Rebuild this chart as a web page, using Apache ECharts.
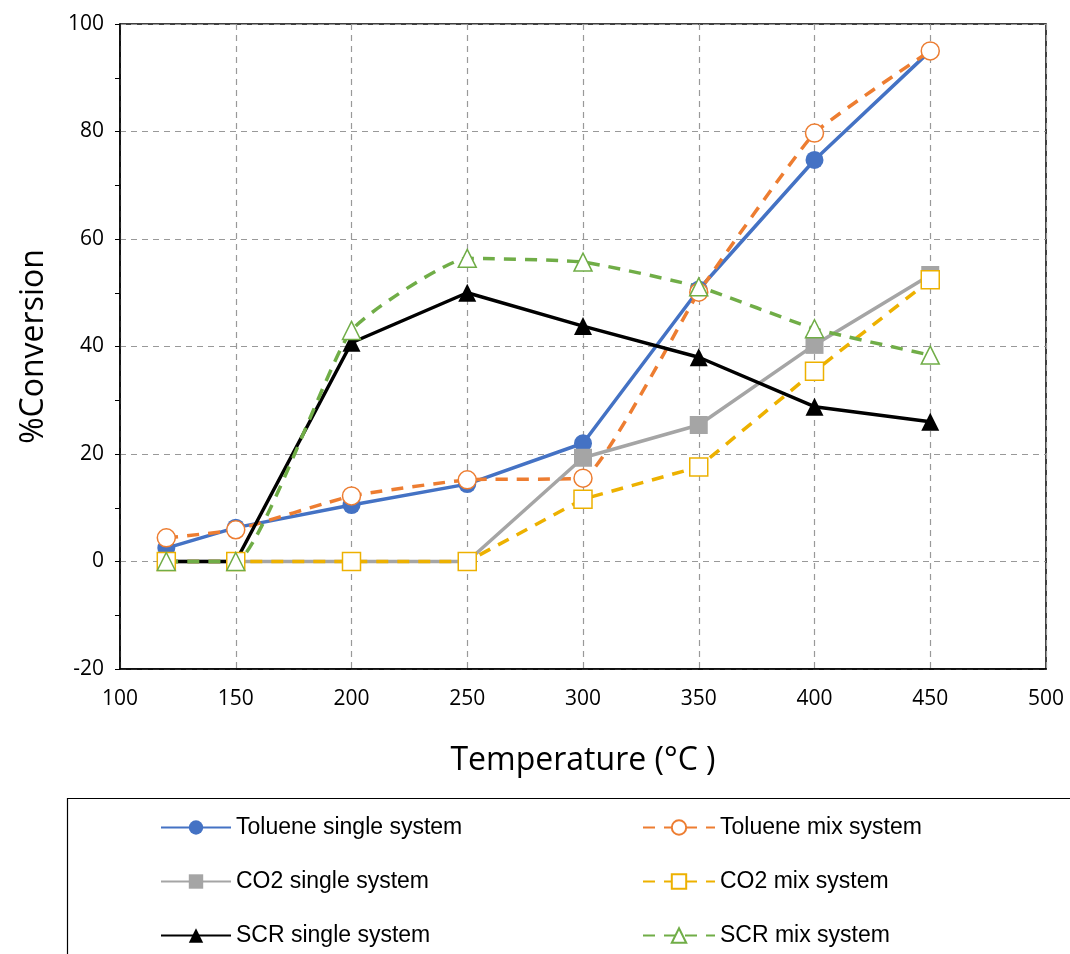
<!DOCTYPE html>
<html>
<head>
<meta charset="utf-8">
<script src="https://cdn.jsdelivr.net/npm/echarts@6/dist/echarts.min.js"></script>
<style>
  html, body { margin: 0; padding: 0; background: #fff; }
  #main { width: 1070px; height: 954px; }
</style>
</head>
<body>
<div id="main"></div>
<script>
    // data
    var temperature = [120, 150, 200, 250, 300, 350, 400, 450];
    var tolueneSingle = [2.5, 6.3, 10.5, 14.4, 22.0, 50.6, 74.7, 95.0];
    var tolueneMix = [4.4, 5.9, 12.2, 15.2, 15.5, 50.1, 79.7, 95.0];
    var co2Single = [0, 0, 0, 0, 19.3, 25.4, 40.3, 53.3];
    var co2Mix = [0, 0, 0, 0, 11.6, 17.6, 35.4, 52.4];
    var scrSingle = [0, 0, 40.7, 50.0, 43.8, 38.0, 28.8, 26.0];
    var scrMix = [0, 0, 43.0, 56.4, 55.7, 51.1, 43.3, 38.4];

    var singleNames = ['Toluene single system', 'CO2 single system', 'SCR single system'];
    var mixNames = ['Toluene mix system', 'CO2 mix system', 'SCR mix system'];

    var font = '"Liberation Sans Narrow", "Liberation Sans", sans-serif';
    var tickFont = '"Open Sans", "DejaVu Sans", sans-serif';

    function pairs(ys) {
        return temperature.map(function (t, i) { return [t, ys[i]]; });
    }

    function solid(name, ys, color, symbol) {
        return {
            name: name, type: 'line', data: pairs(ys),
            symbol: symbol, symbolSize: 18,
            lineStyle: { color: color, width: 3.5 },
            itemStyle: { color: color }
        };
    }

    function dashed(name, ys, color, symbol, smooth) {
        return {
            name: name, type: 'line', data: pairs(ys),
            symbol: symbol, symbolSize: 18, smooth: smooth,
            lineStyle: { color: color, width: 3.5, type: [12, 9] },
            itemStyle: { color: '#fff', borderColor: color, borderWidth: 1.5 }
        };
    }

    var myChart = echarts.init(document.getElementById('main'));

    var option = {
        animation: false,
        grid: {
            left: 120, right: 24, top: 24, bottom: 285,
            show: true, borderColor: '#000', borderWidth: 1.5
        },
        xAxis: {
            type: 'value', min: 100, max: 500, interval: 50,
            name: 'Temperature (°C )', nameLocation: 'middle', nameGap: 76,
            nameTextStyle: { fontSize: 32, fontFamily: tickFont, color: '#000' },
            axisLine: { onZero: false, lineStyle: { color: '#000', width: 1.5 } },
            axisTick: { show: false },
            axisLabel: { fontSize: 21, fontFamily: tickFont, color: '#000', margin: 20 },
            splitLine: { lineStyle: { color: '#999', type: [6, 5], width: 1.2 } }
        },
        yAxis: {
            type: 'value', min: -20, max: 100, interval: 20,
            name: '%Conversion', nameLocation: 'middle', nameGap: 70,
            nameTextStyle: { fontSize: 32, fontFamily: tickFont, color: '#000' },
            axisLine: { show: true, onZero: false, lineStyle: { color: '#000', width: 1.5 } },
            axisTick: { show: true, length: 5, lineStyle: { color: '#000' } },
            minorTick: { show: true, splitNumber: 2, length: 5, lineStyle: { color: '#000' } },
            axisLabel: { fontSize: 21, fontFamily: tickFont, color: '#000', margin: 16 },
            splitLine: { lineStyle: { color: '#999', type: [6, 5], width: 1.2 } }
        },
        legend: [
            {
                data: singleNames, orient: 'vertical', left: 155, top: 811, height: 200,
                itemWidth: 70, itemHeight: 18, itemGap: 31,
                textStyle: { fontSize: 23, fontFamily: font, color: '#000' }
            },
            {
                data: mixNames, orient: 'vertical', left: 637, top: 811, height: 200,
                itemWidth: 72, itemHeight: 18, itemGap: 31,
                textStyle: { fontSize: 23, fontFamily: font, color: '#000' }
            }
        ],
        graphic: [
            {
                type: 'rect', left: 65, top: 796, silent: true,
                shape: { width: 1100, height: 200 },
                style: { fill: 'none', stroke: '#000', lineWidth: 1.2 }
            }
        ],
        series: [
            solid('Toluene single system', tolueneSingle, '#4472C4', 'circle'),
            dashed('Toluene mix system', tolueneMix, '#ED7D31', 'circle', 0.12),
            solid('CO2 single system', co2Single, '#A5A5A5', 'rect'),
            dashed('CO2 mix system', co2Mix, '#EDB100', 'rect', false),
            solid('SCR single system', scrSingle, '#000000', 'triangle'),
            dashed('SCR mix system', scrMix, '#70AD47', 'triangle', 0.15)
        ]
    };

    myChart.setOption(option);
</script>
</body>
</html>
